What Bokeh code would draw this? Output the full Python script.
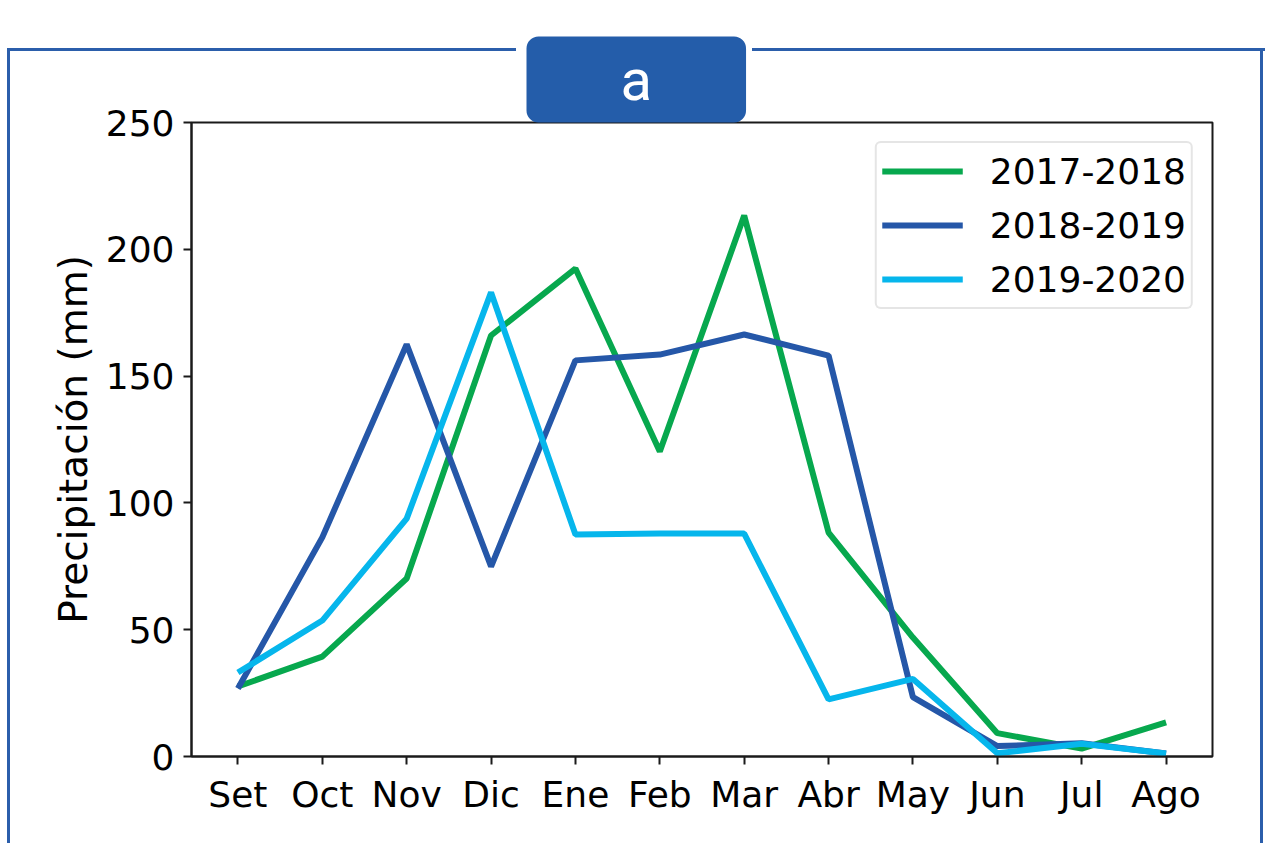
from bokeh.plotting import figure
from bokeh.models import Range1d, FixedTicker, Legend, LegendItem, Title
from bokeh.embed import file_html
from bokeh.resources import INLINE

months = ["Set", "Oct", "Nov", "Dic", "Ene", "Feb", "Mar", "Abr", "May", "Jun", "Jul", "Ago"]
s2017_2018 = [27.6, 39.4, 70.2, 166.0, 192.4, 120.3, 213.3, 88.3, 46.9, 9.2, 3.1, 13.5]
s2018_2019 = [26.8, 86.4, 162.5, 74.9, 156.2, 158.5, 166.4, 158.1, 23.4, 4.1, 5.2, 1.2]
s2019_2020 = [33.1, 53.6, 93.8, 183.0, 87.5, 87.9, 87.9, 22.5, 30.6, 1.3, 5.0, 1.2]
series_names = ["2017-2018", "2018-2019", "2019-2020"]
series_colors = ["#07A84E", "#2557A8", "#06B6EC"]
y_ticks = [0, 50, 100, 150, 200, 250]

W, H = 1265, 843
p = figure(width=W, height=H, output_backend="svg", toolbar_location=None,
           x_range=Range1d(-0.55, 11.55), y_range=Range1d(0, 250),
           min_border_left=191, min_border_right=53, min_border_top=122, min_border_bottom=87)
p.xgrid.visible = False
p.ygrid.visible = False
p.outline_line_color = "#1a1a1a"
p.outline_line_width = 2
p.background_fill_color = "white"
p.border_fill_alpha = 0.0

# decorative blue frame behind the (transparent) canvas border area
BLUE = "#2B5EAB"
g = f"linear-gradient({BLUE},{BLUE})"
p.styles = {
    "background": ", ".join([
        f"{g} 7px 48px / 3px 900px no-repeat",
        f"{g} 1260px 48px / 3px 900px no-repeat",
        f"{g} 7px 48px / 509px 3px no-repeat",
        f"{g} 752px 48px / 513px 3px no-repeat",
        "white",
    ])
}

xs = list(range(len(months)))
items = []
for name, vals, col in zip(series_names, [s2017_2018, s2018_2019, s2019_2020], series_colors):
    r = p.line(xs, vals, line_color=col, line_width=6)
    items.append(LegendItem(label=name, renderers=[r]))

p.xaxis.ticker = FixedTicker(ticks=xs)
p.xaxis.major_label_overrides = {i: m for i, m in enumerate(months)}
p.yaxis.ticker = FixedTicker(ticks=y_ticks)
for ax in (p.xaxis[0], p.yaxis[0]):
    ax.axis_line_color = "#1a1a1a"
    ax.axis_line_width = 2
    ax.major_tick_line_color = "#1a1a1a"
    ax.major_tick_line_width = 2
    ax.major_tick_in = 0
    ax.major_tick_out = 8
    ax.minor_tick_line_color = None
    ax.major_label_text_font = "DejaVu Sans"
    ax.major_label_text_font_size = "36px"
    ax.major_label_text_color = "black"
    ax.major_label_standoff = 9
p.yaxis.axis_label = "Precipitación (mm)"
p.yaxis.axis_label_text_font = "DejaVu Sans"
p.yaxis.axis_label_text_font_size = "39px"
p.yaxis.axis_label_text_font_style = "normal"
p.yaxis.axis_label_text_color = "black"
p.yaxis.axis_label_standoff = 7

legend = Legend(items=items, location="top_right", margin=19, padding=5, spacing=8,
                label_text_font="DejaVu Sans", label_text_font_size="36px", label_text_color="black",
                glyph_width=81, glyph_height=46, label_height=46, label_standoff=27,
                border_line_color="#cccccc", border_line_width=2, border_radius=6,
                background_fill_alpha=1.0)
p.add_layout(legend)

# tab title first (outermost), then an invisible spacer panel nearest the frame
tab = Title(text="a", align="left", offset=335, standoff=0,
            text_color="white", text_font="Roboto", text_font_size="58px", text_font_style="normal",
            background_fill_color="#245DAA", background_fill_alpha=1.0,
            padding=dict(left=94, right=94, top=9, bottom=9), border_radius=12)
p.add_layout(tab, "above")

spacer = Title(text=" ", text_font_size="2px", text_alpha=0.0, standoff=26)
p.add_layout(spacer, "above")

open("out.html", "w").write(file_html(p, INLINE))
